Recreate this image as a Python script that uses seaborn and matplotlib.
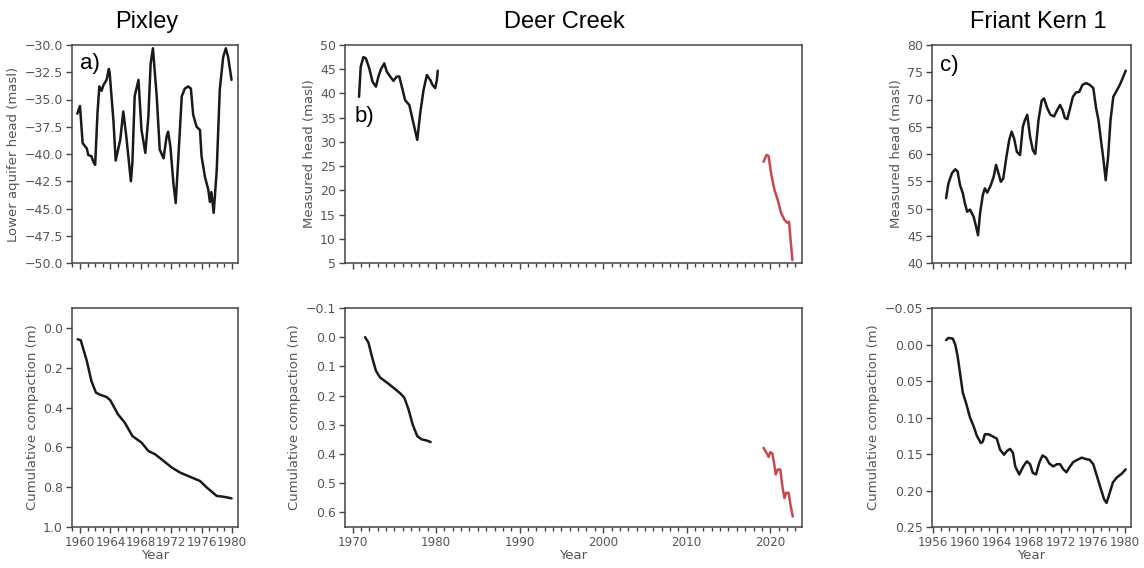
import matplotlib
matplotlib.use("Agg")
import matplotlib.pyplot as plt
import seaborn as sns
from matplotlib.ticker import MultipleLocator

# --- data ---
# Pixley (a)
pix_head_year = [1959.65, 1960.0, 1960.35, 1960.9, 1961.1, 1961.5, 1961.75, 1962.0, 1962.3, 1962.55,
                 1962.85, 1963.07, 1963.5, 1963.8, 1963.9, 1964.4, 1964.7, 1965.3, 1965.7, 1966.1,
                 1966.7, 1966.9, 1967.2, 1967.7, 1968.1, 1968.6, 1969.0, 1969.3, 1969.6, 1970.1,
                 1970.5, 1971.0, 1971.4, 1971.6, 1971.9, 1972.3, 1972.6, 1972.9, 1973.4, 1973.8,
                 1974.25, 1974.6, 1974.9, 1975.35, 1975.8, 1976.0, 1976.45, 1976.9, 1977.1, 1977.3,
                 1977.6, 1978.0, 1978.4, 1978.85, 1979.2, 1979.5, 1979.95]
pix_head = [-36.3, -35.6, -39.0, -39.5, -40.1, -40.2, -40.7, -41.0, -36.3, -33.8,
            -34.2, -33.7, -33.2, -32.2, -32.5, -36.9, -40.6, -38.7, -36.1, -38.4,
            -42.5, -40.8, -34.7, -33.2, -37.8, -39.9, -36.6, -31.7, -30.3, -34.7,
            -39.6, -40.4, -38.4, -37.95, -39.3, -42.7, -44.5, -40.9, -34.7, -34.0,
            -33.8, -34.0, -36.4, -37.5, -37.8, -40.2, -42.1, -43.3, -44.4, -43.5,
            -45.4, -41.5, -34.1, -31.1, -30.3, -31.1, -33.2]
pix_comp_year = [1959.7, 1960.1, 1960.9, 1961.5, 1962.1, 1962.6, 1963.5, 1964.0, 1965.0, 1965.9,
                 1966.9, 1968.1, 1969.0, 1969.9, 1971.0, 1972.1, 1973.2, 1974.25, 1975.8, 1976.7,
                 1978.0, 1978.9, 1979.95]
pix_comp = [0.057, 0.062, 0.166, 0.266, 0.325, 0.335, 0.347, 0.364, 0.434, 0.476,
            0.543, 0.576, 0.618, 0.635, 0.668, 0.702, 0.727, 0.744, 0.769, 0.802,
            0.844, 0.848, 0.856]

# Deer Creek (b): historical (black) and recent (red)
dc_head_year = [1970.78, 1970.98, 1971.3, 1971.6, 1972.0, 1972.4, 1972.8, 1973.1, 1973.4, 1973.8,
                1974.1, 1974.5, 1974.9, 1975.3, 1975.6, 1975.9, 1976.3, 1976.8, 1977.3, 1977.75,
                1978.1, 1978.5, 1978.9, 1979.3, 1979.6, 1979.9, 1980.1, 1980.2]
dc_head = [39.3, 45.5, 47.5, 47.25, 45.2, 42.4, 41.4, 43.5, 45.0, 46.2,
           44.5, 43.5, 42.6, 43.5, 43.5, 41.4, 38.6, 37.6, 33.8, 30.4,
           35.9, 40.7, 43.8, 42.8, 41.7, 41.1, 42.8, 44.7]
dc_head_new_year = [2019.2, 2019.55, 2019.8, 2020.1, 2020.5, 2020.9, 2021.3, 2021.7, 2022.05, 2022.25,
                    2022.4, 2022.65]
dc_head_new = [25.9, 27.3, 27.1, 23.5, 20.1, 18.0, 15.3, 13.9, 13.3, 13.5, 10.4, 5.6]
dc_comp_year = [1971.5, 1971.9, 1972.3, 1972.8, 1973.3, 1974.1, 1974.9, 1975.7, 1976.2, 1976.7,
                1977.2, 1977.75, 1978.3, 1978.9, 1979.35]
dc_comp = [0.0, 0.018, 0.064, 0.115, 0.138, 0.155, 0.173, 0.192, 0.207, 0.247,
           0.299, 0.339, 0.350, 0.354, 0.359]
dc_comp_new_year = [2019.2, 2019.55, 2019.8, 2020.0, 2020.25, 2020.45, 2020.65, 2020.9, 2021.2, 2021.45,
                    2021.7, 2021.9, 2022.2, 2022.45, 2022.7]
dc_comp_new = [0.379, 0.396, 0.410, 0.394, 0.398, 0.430, 0.470, 0.453, 0.453, 0.511,
               0.551, 0.533, 0.533, 0.579, 0.614]

# Friant Kern 1 (c)
fk_head_year = [1957.66, 1957.95, 1958.4, 1958.8, 1959.1, 1959.4, 1959.75, 1960.0, 1960.3, 1960.65,
                1961.1, 1961.4, 1961.65, 1961.9, 1962.25, 1962.5, 1962.8, 1963.25, 1963.6, 1963.9,
                1964.2, 1964.5, 1964.8, 1965.2, 1965.55, 1965.85, 1966.15, 1966.5, 1966.9, 1967.25,
                1967.5, 1967.8, 1968.15, 1968.5, 1968.8, 1969.2, 1969.6, 1969.9, 1970.3, 1970.7,
                1971.15, 1971.55, 1971.9, 1972.2, 1972.5, 1972.8, 1973.15, 1973.5, 1973.9, 1974.3,
                1974.7, 1975.15, 1975.6, 1976.05, 1976.4, 1976.7, 1977.0, 1977.3, 1977.6, 1977.9,
                1978.2, 1978.55, 1979.0, 1979.4, 1979.8, 1980.1]
fk_head = [51.9, 54.6, 56.5, 57.2, 56.8, 54.3, 52.8, 51.0, 49.4, 49.8,
           48.5, 46.7, 45.1, 49.1, 52.5, 53.7, 52.9, 54.3, 55.8, 58.0,
           56.5, 54.9, 55.5, 59.5, 62.6, 64.1, 62.9, 60.4, 59.8, 65.0,
           66.2, 67.2, 63.2, 60.7, 60.0, 66.2, 69.8, 70.2, 68.4, 67.2,
           66.9, 68.1, 69.0, 68.1, 66.6, 66.4, 68.4, 70.5, 71.3, 71.4,
           72.7, 73.0, 72.7, 72.1, 68.4, 66.2, 62.6, 59.2, 55.2, 59.5,
           66.2, 70.5, 71.7, 72.8, 74.2, 75.3]
fk_comp_year = [1957.66, 1957.95, 1958.5, 1958.8, 1959.1, 1959.4, 1959.75, 1960.15, 1960.65, 1961.1,
                1961.5, 1962.0, 1962.25, 1962.5, 1962.95, 1963.5, 1964.0, 1964.4, 1964.9, 1965.25,
                1965.65, 1966.0, 1966.3, 1966.8, 1967.3, 1967.75, 1968.15, 1968.5, 1968.9, 1969.3,
                1969.7, 1970.15, 1970.55, 1971.05, 1971.5, 1971.9, 1972.3, 1972.7, 1973.15, 1973.55,
                1974.05, 1974.6, 1975.15, 1975.6, 1976.05, 1976.55, 1977.0, 1977.4, 1977.7, 1978.05,
                1978.5, 1979.0, 1979.6, 1980.1]
fk_comp = [-0.006, -0.009, -0.008, 0.0, 0.016, 0.039, 0.066, 0.080, 0.100, 0.112,
           0.125, 0.135, 0.133, 0.123, 0.123, 0.126, 0.129, 0.144, 0.151, 0.146,
           0.143, 0.148, 0.167, 0.178, 0.167, 0.160, 0.164, 0.176, 0.178, 0.162,
           0.152, 0.155, 0.163, 0.167, 0.164, 0.164, 0.171, 0.175, 0.167, 0.161,
           0.158, 0.155, 0.157, 0.158, 0.164, 0.182, 0.198, 0.212, 0.217, 0.205,
           0.189, 0.182, 0.177, 0.171]

sites = ["Pixley", "Deer Creek", "Friant Kern 1"]
panel_tags = ["a)", "b)", "c)"]
head_labels = ["Lower aquifer head (masl)", "Measured head (masl)", "Measured head (masl)"]

# --- style ---
sns.set_theme(style="ticks")
plt.rcParams["font.family"] = ["DejaVu Sans"]
GREY = "#555555"
SPINE = "#444444"
BLACK = "#1a1a1a"
RED = "#c9474f"
plt.rcParams.update({
    "axes.edgecolor": SPINE, "axes.linewidth": 1.1,
    "xtick.color": SPINE, "ytick.color": SPINE,
    "xtick.labelcolor": GREY, "ytick.labelcolor": GREY,
    "xtick.labelsize": 8.6, "ytick.labelsize": 9,
    "axes.labelcolor": GREY, "axes.labelsize": 9.5,
    "xtick.major.size": 4, "ytick.major.size": 4,
    "xtick.minor.size": 3, "xtick.major.width": 1.0, "xtick.minor.width": 1.0,
    "ytick.major.width": 1.0,
    "xtick.major.pad": 2.5, "ytick.major.pad": 2.5,
})

fig = plt.figure(figsize=(11.44, 5.68), dpi=100)
W, H = 1144, 568

def rect(l, r, t, b):
    return [l / W, 1 - b / H, (r - l) / W, (b - t) / H]

cols = [(72, 238), (345, 802), (932, 1131)]
top_axes = [fig.add_axes(rect(l, r, 45, 263)) for l, r in cols]
bot_axes = [fig.add_axes(rect(l, r, 308, 527)) for l, r in cols]

xlims = [(1958.95, 1980.8), (1969.1, 2023.8), (1955.9, 1980.76)]
xmajor = [4, 10, 4]

lw = 1.8
# top row: heads
sns.lineplot(x=pix_head_year, y=pix_head, ax=top_axes[0], color=BLACK, lw=lw)
sns.lineplot(x=dc_head_year, y=dc_head, ax=top_axes[1], color=BLACK, lw=lw)
sns.lineplot(x=dc_head_new_year, y=dc_head_new, ax=top_axes[1], color=RED, lw=lw)
sns.lineplot(x=fk_head_year, y=fk_head, ax=top_axes[2], color=BLACK, lw=lw)
# bottom row: compaction
sns.lineplot(x=pix_comp_year, y=pix_comp, ax=bot_axes[0], color=BLACK, lw=lw)
sns.lineplot(x=dc_comp_year, y=dc_comp, ax=bot_axes[1], color=BLACK, lw=lw)
sns.lineplot(x=dc_comp_new_year, y=dc_comp_new, ax=bot_axes[1], color=RED, lw=lw)
sns.lineplot(x=fk_comp_year, y=fk_comp, ax=bot_axes[2], color=BLACK, lw=lw)

top_ylims = [(-50, -30), (5, 50), (40, 80)]
top_ystep = [2.5, 5, 5]
bot_ylims = [(1.0, -0.1), (0.65, -0.1), (0.25, -0.05)]
bot_yticks = [[0.0, 0.2, 0.4, 0.6, 0.8, 1.0],
              [-0.1, 0.0, 0.1, 0.2, 0.3, 0.4, 0.5, 0.6],
              [-0.05, 0.0, 0.05, 0.10, 0.15, 0.20, 0.25]]
bot_fmt = ["{:.1f}", "{:.1f}", "{:.2f}"]
tag_pos = [(0.048, 0.913), (0.02, 0.67), (0.04, 0.908)]

for i in range(3):
    ta, ba = top_axes[i], bot_axes[i]
    for ax in (ta, ba):
        ax.set_xlim(*xlims[i])
        ax.xaxis.set_major_locator(MultipleLocator(xmajor[i]))
        ax.xaxis.set_minor_locator(MultipleLocator(1))
        for s in ax.spines.values():
            s.set_visible(True)
    ta.set_ylim(*top_ylims[i])
    ta.yaxis.set_major_locator(MultipleLocator(top_ystep[i]))
    ta.tick_params(axis="x", which="both", labelbottom=False)
    ta.set_xlabel("")
    ta.set_ylabel(head_labels[i], labelpad=3)
    ta.text(tag_pos[i][0], tag_pos[i][1], panel_tags[i], transform=ta.transAxes,
            ha="left", va="center", fontsize=16, family="Liberation Sans", color="black")

    ba.set_ylim(*bot_ylims[i])
    ba.set_yticks(bot_yticks[i])
    ba.set_yticklabels([bot_fmt[i].format(v).replace("-", "\u2212") for v in bot_yticks[i]])
    ba.set_xlabel("Year", labelpad=0)
    ba.set_ylabel("Cumulative compaction (m)", labelpad=3)

# column titles
title_x = [147, 564, 1038]
for name, tx in zip(sites, title_x):
    fig.text(tx / W, 1 - 28 / H, name, ha="center", va="baseline",
             fontsize=17, family="Liberation Sans", color="black")

fig.savefig("out.png", dpi=100)
